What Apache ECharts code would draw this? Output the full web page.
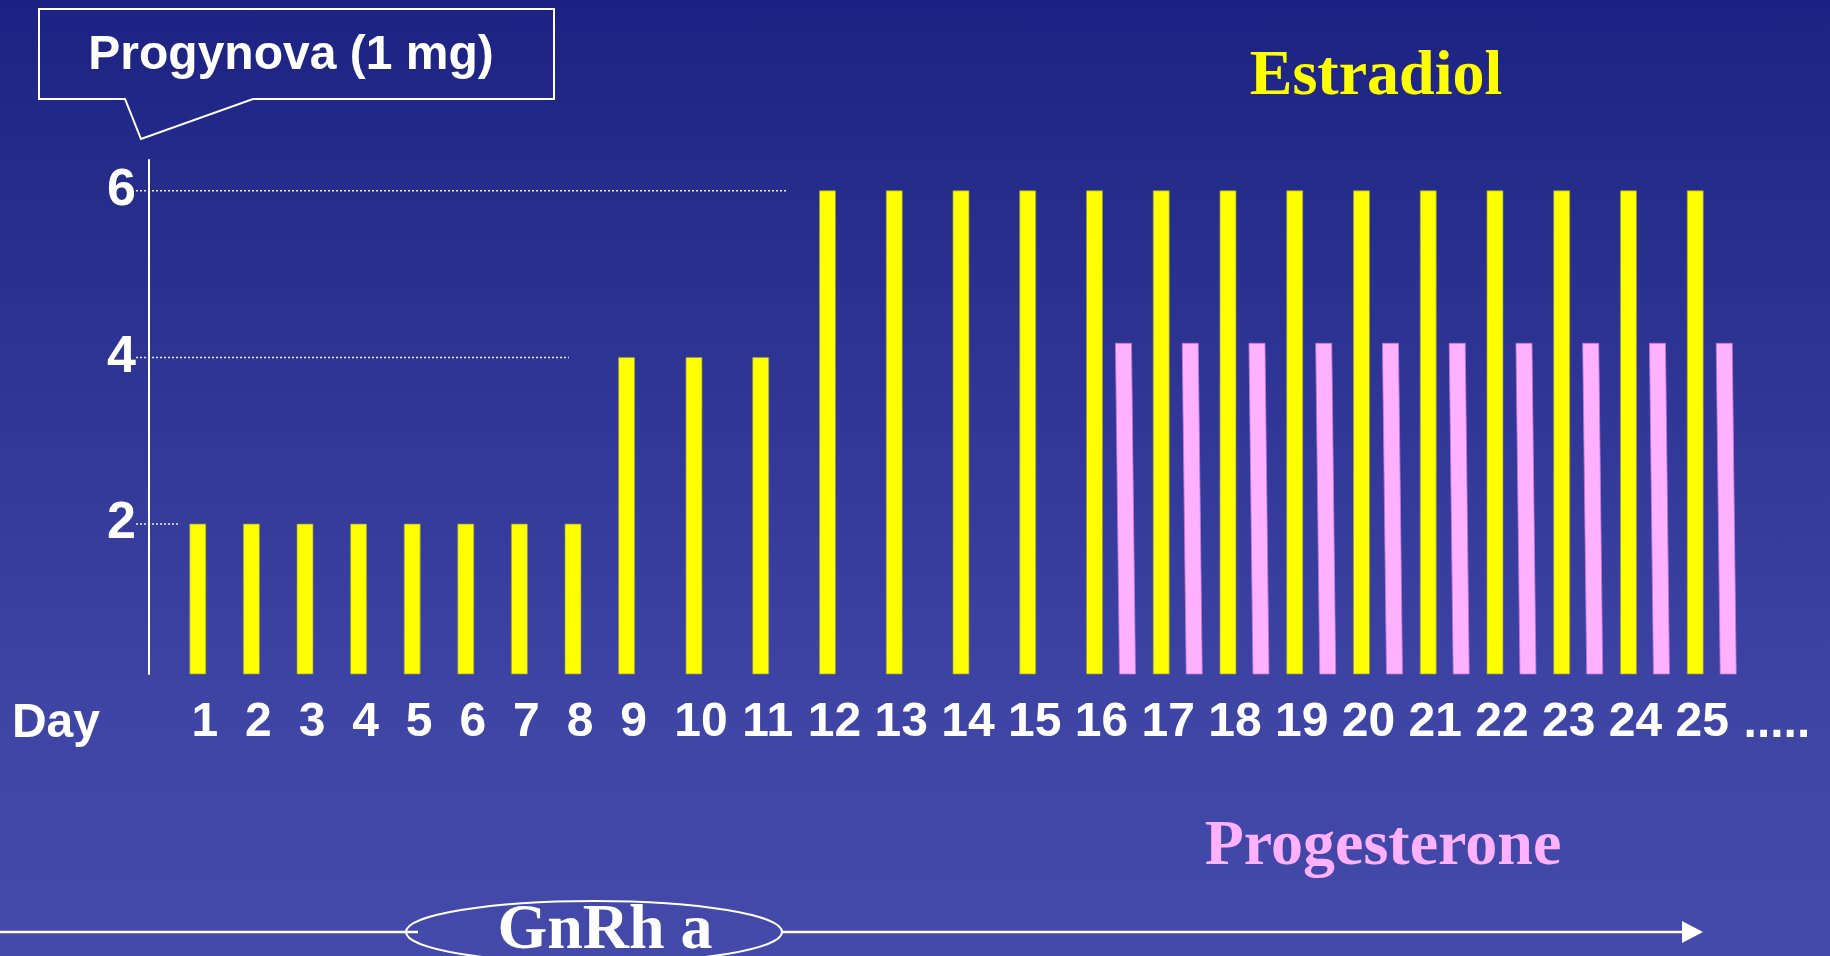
<!DOCTYPE html>
<html>
<head>
<meta charset="utf-8">
<script src="https://cdn.jsdelivr.net/npm/echarts@6/dist/echarts.min.js"></script>
<style>
  html, body { margin: 0; padding: 0; width: 1830px; height: 956px; overflow: hidden;
    background: linear-gradient(to bottom, #1b2283 0%, #252c8a 20%, #3e45a5 75%, #444aa9 100%); }
  #chart { width: 1830px; height: 956px; }
</style>
</head>
<body>
<div id="chart"></div>
<script>
// ---------- data ----------
const days = ['1','2','3','4','5','6','7','8','9','10','11','12','13','14','15','16','17','18','19','20','21','22','23','24','25'];
const estradiol = [2, 2, 2, 2, 2, 2, 2, 2, 4, 4, 4, 6, 6, 6, 6, 6, 6, 6, 6, 6, 6, 6, 6, 6, 6];
const progesterone = [null, null, null, null, null, null, null, null, null, null, null, null, null, null, null,
                      4.17, 4.17, 4.17, 4.17, 4.17, 4.17, 4.17, 4.17, 4.17, 4.17];
const yTickValues = [2, 4, 6];
const dayAxisName = 'Day';
const moreDaysName = '.....';
const splitDay = 9; // days 1-9 drawn in the narrower first block

// ---------- layout / style ----------
const Y_MIN = 0.2, Y_MAX = 6.37;
const GRID_TOP = 160, GRID_H = 514;
const G1_LEFT = 178, G1_W = 482.4;
const G2_LEFT = 667.6, G2_W = 1068;
const Y_OFFSET = 29;
const SANS = '"Liberation Sans", Arial, sans-serif';
const SERIF = '"Liberation Serif", "Times New Roman", serif';
const YELLOW = '#ffff00', PINK = '#ffb0ff';

function toItems(values, from, to) {
  const out = [];
  for (let i = from; i < to; i++) {
    if (values[i] != null) out.push([i - from, values[i]]);
  }
  return out;
}

function barRenderer(fill, stroke, offset, skew) {
  return function (params, api) {
    const top = api.coord([api.value(0), api.value(1)]);
    const bot = api.coord([api.value(0), Y_MIN]);
    const w = 16, cx = top[0] + offset;
    return {
      type: 'polygon',
      shape: { points: [[cx - w / 2, top[1]], [cx + w / 2, top[1]], [cx + w / 2 + skew, bot[1]], [cx - w / 2 + skew, bot[1]]] },
      style: { fill: fill, stroke: stroke, lineWidth: 1 }
    };
  };
}

const labelStyle = { color: '#ffffff', fontSize: 48, fontWeight: 'bold', fontFamily: SANS };
const nameStyle = Object.assign({ verticalAlign: 'top', lineHeight: 100 }, labelStyle);

const chart = echarts.init(document.getElementById('chart'));
chart.setOption({
  backgroundColor: 'transparent',
  animation: false,
  grid: [
    { left: G1_LEFT, top: GRID_TOP, width: G1_W, height: GRID_H },
    { left: G2_LEFT, top: GRID_TOP, width: G2_W, height: GRID_H }
  ],
  xAxis: [
    {
      type: 'category', gridIndex: 0, data: days.slice(0, splitDay),
      axisLine: { show: false }, axisTick: { show: false }, splitLine: { show: false },
      axisLabel: Object.assign({ interval: 0, margin: 25 }, labelStyle),
      name: dayAxisName, nameLocation: 'start', nameGap: 78,
      nameTextStyle: nameStyle
    },
    {
      type: 'category', gridIndex: 1, data: days.slice(splitDay),
      axisLine: { show: false }, axisTick: { show: false }, splitLine: { show: false },
      axisLabel: Object.assign({ interval: 0, margin: 25 }, labelStyle),
      name: moreDaysName, nameLocation: 'end', nameGap: 8,
      nameTextStyle: nameStyle
    }
  ],
  yAxis: [
    {
      type: 'value', gridIndex: 0, min: Y_MIN, max: Y_MAX, offset: Y_OFFSET,
      axisLine: { show: true, lineStyle: { color: '#ffffff', width: 2 } },
      axisTick: { show: false }, splitLine: { show: false },
      axisLabel: Object.assign({ customValues: yTickValues, margin: 13 }, labelStyle, { fontSize: 52 })
    },
    { type: 'value', gridIndex: 1, min: Y_MIN, max: Y_MAX, show: false }
  ],
  series: [
    {
      name: 'Estradiol', type: 'custom', xAxisIndex: 0, yAxisIndex: 0,
      renderItem: barRenderer(YELLOW, 'rgba(150,150,80,0.7)', -7, 0),
      data: toItems(estradiol, 0, splitDay)
    },
    {
      name: 'Estradiol', type: 'custom', xAxisIndex: 1, yAxisIndex: 1,
      renderItem: barRenderer(YELLOW, 'rgba(150,150,80,0.7)', -7, 0),
      data: toItems(estradiol, splitDay, days.length)
    },
    {
      name: 'Progesterone', type: 'custom', xAxisIndex: 1, yAxisIndex: 1,
      renderItem: barRenderer(PINK, 'rgba(190,120,220,0.8)', 22, 4),
      data: toItems(progesterone, splitDay, days.length)
    }
  ]
});

// ---------- annotations ----------
const axisX = G1_LEFT - Y_OFFSET;
const py = v => chart.convertToPixel({ yAxisIndex: 0 }, v);
const px0 = d => chart.convertToPixel({ xAxisIndex: 0 }, d);
const px1 = d => chart.convertToPixel({ xAxisIndex: 1 }, d);
const guideEnds = { 2: G1_LEFT, 4: px0('8') - 11, 6: px1('11') + 19 };
const dotted = { stroke: 'rgba(255,255,255,0.9)', lineWidth: 1.5, lineDash: [2, 2] };

const graphics = [];
yTickValues.forEach(v => {
  graphics.push({ type: 'line', z: 1, shape: { x1: axisX - 13, y1: py(v), x2: guideEnds[v], y2: py(v) }, style: dotted });
});

graphics.push(
  // callout box
  { type: 'polygon', shape: { points: [[39, 9], [554, 9], [554, 99], [253, 99], [141, 139], [125, 99], [39, 99]] },
    style: { fill: 'none', stroke: '#ffffff', lineWidth: 2 } },
  { type: 'text', style: { text: 'Progynova (1 mg)', x: 291, y: 56, textAlign: 'center', textVerticalAlign: 'middle',
      fill: '#ffffff', font: 'bold 48px ' + SANS } },
  { type: 'text', style: { text: 'Estradiol', x: 1376, y: 77, textAlign: 'center', textVerticalAlign: 'middle',
      fill: YELLOW, font: 'bold 64px ' + SERIF } },
  { type: 'text', style: { text: 'Progesterone', x: 1383, y: 847, textAlign: 'center', textVerticalAlign: 'middle',
      fill: PINK, font: 'bold 64px ' + SERIF } },
  // GnRh a timeline
  { type: 'line', shape: { x1: 0, y1: 932, x2: 418, y2: 932 }, style: { stroke: '#ffffff', lineWidth: 2.5 } },
  { type: 'line', shape: { x1: 782, y1: 932, x2: 1684, y2: 932 }, style: { stroke: '#ffffff', lineWidth: 2.5 } },
  { type: 'polygon', shape: { points: [[1682, 921], [1703, 932], [1682, 943]] }, style: { fill: '#ffffff' } },
  { type: 'ellipse', shape: { cx: 594, cy: 932, rx: 188, ry: 31 }, style: { fill: 'none', stroke: '#ffffff', lineWidth: 2 } },
  { type: 'text', style: { text: 'GnRh a', x: 605, y: 931, textAlign: 'center', textVerticalAlign: 'middle',
      fill: '#ffffff', font: 'bold 64px ' + SERIF } }
);

chart.setOption({ graphic: graphics });
</script>
</body>
</html>
